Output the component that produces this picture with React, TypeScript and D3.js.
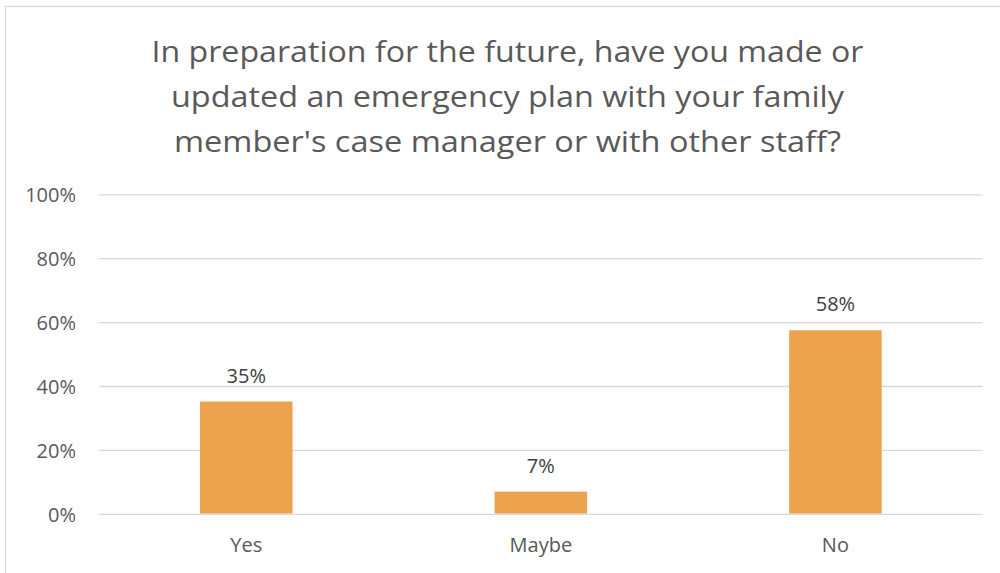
import React from "react";
import * as d3 from "d3";

const titleLines = [
  "In preparation for the future, have you made or",
  "updated an emergency plan with your family",
  "member's case manager or with other staff?",
];
const titleWidths = [712, 673, 667];
const categories = ["Yes", "Maybe", "No"];
const values = [0.353, 0.071, 0.576];
const valueLabels = ["35%", "7%", "58%"];
const yTicks = [0, 0.2, 0.4, 0.6, 0.8, 1.0];

const W = 1000;
const H = 573;
const FONT = "'Open Sans', 'Noto Sans', sans-serif";

export default function App() {
  const x = d3.scaleBand<string>().domain(categories).range([99, 982.7]).padding(0);
  const y = d3.scaleLinear().domain([0, 1]).range([514.3, 194.8]);
  const barW = x.bandwidth() * 0.314;
  const fmt = d3.format(".0%");

  return (
    <svg
      width={W}
      height={H}
      style={{ position: "absolute", left: 0, top: 0, background: "#fff" }}
    >
      <rect x={0} y={0} width={W} height={H} fill="#fff" />
      <rect x={5.5} y={6.5} width={W + 20} height={H + 20} fill="none" stroke="#d9d9d9" strokeWidth={1.2} />
      {titleLines.map((t, i) => (
        <text
          key={i}
          x={507.5}
          y={62 + i * 45}
          textAnchor="middle"
          fontFamily={FONT}
          fontSize={30}
          fill="#595959"
          textLength={titleWidths[i]}
          lengthAdjust="spacingAndGlyphs"
        >
          {t}
        </text>
      ))}
      {yTicks.map((t) => (
        <g key={t}>
          <line x1={99} x2={982.7} y1={y(t)} y2={y(t)} stroke="#d9d9d9" strokeWidth={1.3} />
          <text
            x={76}
            y={y(t) + 7.5}
            textAnchor="end"
            fontFamily={FONT}
            fontSize={20}
            fill="#595959"
          >
            {fmt(t)}
          </text>
        </g>
      ))}
      {categories.map((c, i) => {
        const cx = (x(c) as number) + x.bandwidth() / 2;
        return (
          <g key={c}>
            <rect
              x={cx - barW / 2}
              y={y(values[i])}
              width={barW}
              height={y(0) - y(values[i]) - 0.8}
              fill="#eca14c"
            />
            <text
              x={cx}
              y={y(values[i]) - 19}
              textAnchor="middle"
              fontFamily={FONT}
              fontSize={20}
              fill="#404040"
            >
              {valueLabels[i]}
            </text>
            <text
              x={cx}
              y={552}
              textAnchor="middle"
              fontFamily={FONT}
              fontSize={20}
              fill="#595959"
            >
              {c}
            </text>
          </g>
        );
      })}
    </svg>
  );
}
